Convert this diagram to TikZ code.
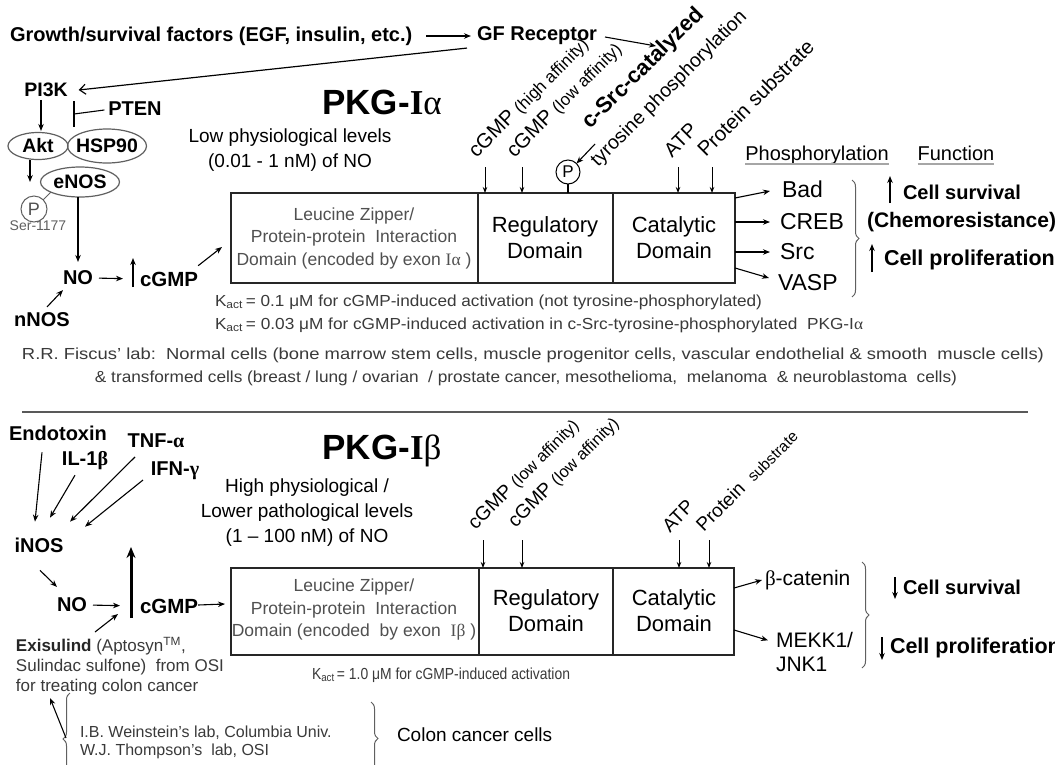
\documentclass[tikz,border=0pt]{standalone}
\usepackage{fontspec}
\usepackage{graphicx}
\setmainfont{Liberation Sans}
\newfontfamily\serif{Liberation Serif}
\usetikzlibrary{arrows.meta,decorations.pathreplacing,calc}
\definecolor{tgray}{HTML}{3A3A3A}
\definecolor{bgray}{HTML}{505050}
\definecolor{lgray}{HTML}{606060}
\newcommand\fs[1]{\fontsize{#1}{#1}\selectfont}
\newcommand\fsb[2]{\fontsize{#1}{#2}\selectfont}
\newcommand\fitw[2]{\resizebox{#1}{\height}{#2}}
\newcommand\gr[1]{{\serif #1}}
\begin{document}
\begin{tikzpicture}[x=1pt,y=-1pt,
  every node/.style={inner sep=0pt, outer sep=0pt},
  bl/.style={font=\bfseries\fs{#1}},
  rg/.style={font=\fs{#1}},
  arr/.style={-{Stealth[length=7pt,width=5.5pt]}, line width=1.1pt},
  arrs/.style={-{Stealth[length=6pt,width=4.5pt]}, line width=1pt},
  uarr/.style={-{Stealth[length=7pt,width=5.5pt]}, line width=1.5pt},
  rot/.style={rotate=45, anchor=south west},
  brc/.style={decorate, decoration={brace, amplitude=7pt}, line width=1pt, draw=lgray},
  ellst/.style={draw=lgray, line width=1.2pt},
  boxst/.style={draw=black!85, line width=2.2pt},
  divst/.style={draw=black!85, line width=1.8pt},
  ulst/.style={draw=black!35, line width=2pt},
  sepst/.style={draw=black!65, line width=1.3pt}
]
\useasboundingbox (0,0) rectangle (1055,764);
\fill[white] (0,0) rectangle (1055,764);

% ---------------- top section ----------------
\node[bl=20, anchor=west] (gf) at (10,36) {Growth/survival factors (EGF, insulin, etc.)};
\node[bl=20, anchor=west] (gfr) at (477,36) {GF Receptor};
\draw[arr, shorten <=14pt, shorten >=6pt] (gf.east) -- (gfr.west);

\node[bl=19.5] (pi3k) at (46,90) {PI3K};
\draw[-{Straight Barb[length=6pt,width=10pt]}, line width=1.2pt] ($(gfr.south west)+(-10,3)$) -- ($(pi3k.east)+(11,0)$);
\draw[arr] ($(pi3k.south)+(-5,3)$) -- ++(0,31);

\node[bl=20] (pten) at (135,109) {PTEN};
\coordinate (bar) at (74,114);
\draw[line width=1.1pt] ($(pten.west)+(-4,1)$) -- (bar);
\draw[line width=1.1pt] ($(bar)+(0,-13)$) -- ($(bar)+(0,13)$);

\node[bl=19.5] (akt) at (38,146) {Akt};
\draw[ellst] (akt.center) ellipse [x radius=30pt, y radius=13.5pt];
\node[bl=19.5] (hsp) at (107,146) {HSP90};
\draw[ellst] (hsp.center) ellipse [x radius=39.5pt, y radius=17pt];
\node[bl=19.5] (enos) at (80,182) {eNOS};
\draw[ellst] (enos.center) ellipse [x radius=39.5pt, y radius=15pt];
\draw[arr] ($(akt.center)+(-8,14)$) -- ++(0,22);

\node[circle, draw=lgray, line width=1pt, minimum size=26pt, font=\fs{18}, text=bgray] (p1) at (34,209) {P};
\draw[lgray, line width=1pt] (p1.north east) -- ($(enos.center)+(-29,10)$);
\node[rg=14, text=lgray] (ser) at (38,226) {Ser-1177};

\node[bl=20] (no1) at (78,278) {NO};
\draw[arr, shorten >=9pt] ($(enos.center)+(-2,15)$) -- (no1.north);
\node[bl=20.5, anchor=west] (cg1) at (140,279) {cGMP};
\draw[arr, shorten <=6pt, shorten >=17pt] (no1.east) -- (cg1.west);
\draw[uarr] ($(cg1.west)+(-7,8)$) -- ++(0,-29);
\node[bl=20] (nnos) at (42,320) {nNOS};
\draw[arr] ($(nnos.north)+(5,-6)$) -- ($(no1.south west)+(0,5)$);

\node[boxst, minimum width=504pt, minimum height=90pt] (box1) at (483,238) {};
\draw[divst] ($(box1.north west)+(247,0)$) -- ($(box1.south west)+(247,0)$);
\draw[divst] ($(box1.north west)+(382,0)$) -- ($(box1.south west)+(382,0)$);
\draw[arr] ($(cg1.north east)+(0,-6)$) -- ($(box1.west)+(-9,9)$);

\node[align=center, font=\fsb{17.5}{22.5}, text=bgray] (lz1) at (354,238) {Leucine Zipper/\\Protein-protein\ \ Interaction\\Domain (encoded by exon \gr{I}\gr{α} )};
\node[align=center, font=\fsb{22}{26}] (reg1) at (545,238) {Regulatory\\Domain};
\node[align=center, font=\fsb{22}{26}] (cat1) at (674,238) {Catalytic\\Domain};

\foreach \dx in {254,291,447,481}
  \draw[arrs] ($(box1.north west)+(\dx,-26)$) -- ($(box1.north west)+(\dx,0)$);
\node[circle, draw, line width=1pt, minimum size=24pt, font=\fs{17}] (p2) at (568,172) {P};
\draw[line width=1.2pt] (p2.south) -- (p2.south |- box1.north);

\node[rot] (lab1) at (479,161) {\fs{20.5}cGMP \fs{17}(high affinity)};
\node[rot] (lab2) at (517,161) {\fs{20.5}cGMP \fs{17}(low affinity)};
\node[rot, font=\bfseries\fs{22}] (csrc) at (594,133) {c-Src-catalyzed};
\node[rot, font=\fs{19.5}] (tyr) at (601,170) {tyrosine phosphorylation};
\node[rot, font=\fs{20}] (atp1) at (672,158) {ATP};
\node[rot, font=\fs{20.5}] (prot1) at (706,158) {Protein substrate};
\draw[arr] ($(csrc.south west)+(1,11)$) -- (p2.north east);
\coordinate (srcin) at (656,46);
\draw[arr] ($(gfr.east)+(8,1)$) -- (srcin);

\node[font=\fs{35}] (pkga) at (382,102) {\bfseries PKG-{\serif I}{\serif\mdseries α}};
\node[font=\fsb{19}{25}, align=center] (low) at (290,150) {Low physiological levels\\(0.01 - 1 nM) of NO};

\node[rg=20, anchor=base] (phos) at (817,160) {Phosphorylation};
\node[rg=20, anchor=base] (func) at (956,160) {Function};
\draw[ulst] ($(phos.base west)+(0,4)$) -- ($(phos.base east)+(0,4)$);
\draw[ulst] ($(func.base west)+(0,4)$) -- ($(func.base east)+(0,4)$);

\node[rg=23, anchor=west] (bad) at (782,189) {Bad};
\node[rg=23, anchor=west] (creb) at (780,222) {CREB};
\node[rg=23, anchor=west] (src) at (780,252) {Src};
\node[rg=23, anchor=west] (vasp) at (778,283) {VASP};
\draw[arr] ($(box1.north east)+(0,5)$) -- ($(bad.west)+(-12,2)$);
\draw[arr] (box1.east |- creb.west) -- ($(creb.west)+(-10,0)$);
\draw[arr] (box1.east |- src.west) -- ($(src.west)+(-10,0)$);
\draw[arr] ($(box1.south east)+(0,-15)$) -- ($(vasp.west)+(-9,-5)$);
\draw[brc] (852,180) -- (852,297);

\node[bl=20, anchor=west] (cs1) at (903,192) {Cell survival};
\draw[uarr] ($(cs1.west)+(-13,11)$) -- ++(0,-27);
\node[bl=21, anchor=west] (chemo) at (867,222) {(Chemoresistance)};
\node[bl=21.5, anchor=west] (cp1) at (884,260) {Cell proliferation};
\draw[uarr] ($(cp1.west)+(-12,12)$) -- ++(0,-28);

\node[anchor=west, text=tgray] (k1) at (215,302) {\fitw{547pt}{\fs{16}K\textsubscript{act}\,= 0.1 μM for cGMP-induced activation (not tyrosine-phosphorylated)}};
\node[anchor=west, text=tgray] (k2) at (215,325) {\fitw{648pt}{\fs{16}K\textsubscript{act}\,= 0.03 μM for cGMP-induced activation in c-Src-tyrosine-phosphorylated\ \ PKG-I\gr{α}}};

\node[text=tgray] (fis1) at (533,355) {\fitw{1022pt}{\fs{16}R.R. Fiscus' lab:\ \ Normal cells (bone marrow stem cells, muscle progenitor cells, vascular endothelial \& smooth\ \ muscle cells)}};
\node[text=tgray] (fis2) at (526,378) {\fitw{862pt}{\fs{16}\& transformed cells (breast / lung / ovarian\ \ / prostate cancer, mesothelioma,\ \ melanoma\ \ \& neuroblastoma\ \ cells)}};

\draw[sepst] (22,412) -- (1028,412);

% ---------------- bottom section ----------------
\node[bl=20] (endo) at (58,433) {Endotoxin};
\node[bl=20] (il1) at (85,461) {IL-1\gr{β}};
\node[bl=20] (tnf) at (156,441) {TNF-\gr{α}};
\node[bl=20] (ifn) at (175,471) {IFN-\gr{γ}};
\node[bl=20] (inos) at (39,545) {iNOS};
\draw[arr] ($(endo.south)+(-16,12)$) -- ($(inos.north)+(-4,-16)$);
\draw[arr] ($(il1.south)+(-10,5)$) -- ($(inos.north)+(11,-20)$);
\draw[arr] ($(tnf.south)+(-21,9)$) -- ($(inos.north)+(31,-16)$);
\draw[arr] ($(ifn.south)+(-32,0)$) -- ($(inos.north)+(46,-11)$);

\node[bl=20] (no2) at (72,605) {NO};
\draw[arr] ($(inos.south)+(1,18)$) -- ($(no2.north west)+(0,-11)$);
\node[bl=20.5, anchor=west] (cg2) at (140,606) {cGMP};
\draw[arr, shorten <=6pt, shorten >=20pt] (no2.east) -- (cg2.west);
\draw[-{Stealth[length=11pt,width=9pt]}, line width=3pt] ($(cg2.west)+(-9,12)$) -- ++(0,-71);

\node[boxst, minimum width=503pt, minimum height=87pt] (box2) at (482.5,611.5) {};
\draw[divst] ($(box2.north west)+(248,0)$) -- ($(box2.south west)+(248,0)$);
\draw[divst] ($(box2.north west)+(382,0)$) -- ($(box2.south west)+(382,0)$);
\draw[arr] ($(cg2.east)+(0,-1)$) -- ($(box2.west)+(-6,-7.5)$);

\node[align=center, font=\fsb{17.5}{22.5}, text=bgray] (lz2) at (354,610) {Leucine Zipper/\\Protein-protein\ \ Interaction\\Domain (encoded\ \ by exon\ \ \gr{I}\gr{β} )};
\node[align=center, font=\fsb{22}{26}] (reg2) at (546,611) {Regulatory\\Domain};
\node[align=center, font=\fsb{22}{26}] (cat2) at (674,611) {Catalytic\\Domain};
\foreach \dx in {252,291,448,478}
  \draw[arrs] ($(box2.north west)+(\dx,-28)$) -- ($(box2.north west)+(\dx,0)$);

\node[rot] (lab3) at (478,533) {\fs{19.5}cGMP \fs{16.5}(low affinity)};
\node[rot] (lab4) at (518,531) {\fs{19.5}cGMP \fs{16.5}(low affinity)};
\node[rot, font=\fs{19}] (atp2) at (670,533) {ATP};
\node[rot] (prot2) at (704,533) {\fs{19}Protein\ \ \fs{15.5}substrate};

\node[font=\fs{35}] (pkgb) at (382,451) {\bfseries PKG-{\serif I}{\serif\mdseries β}};
\node[font=\fsb{19}{25}, align=center] (high) at (307,513) {High physiological /\\Lower pathological levels\\(1 – 100 nM) of NO};

\node[anchor=north west, align=left, font=\fsb{17}{20}, text=tgray] (exi) at (16,637) {\textcolor{black!85}{\bfseries Exisulind} (Aptosyn\textsuperscript{TM},\\Sulindac sulfone)\ \ from OSI\\for treating colon cancer};
\draw[arr] ($(exi.north west)+(79,-5)$) -- ($(cg2.west)+(-22,8)$);

\node[rg=21, anchor=west] (bcat) at (765,580) {\gr{β}-catenin};
\node[anchor=west, align=left, font=\fsb{21}{24}] (mekk) at (776,652) {MEKK1/\\JNK1};
\draw[arr] ($(box2.north east)+(0,20)$) -- ($(bcat.west)+(-3,0)$);
\draw[arr] ($(box2.north east)+(0,62)$) -- ($(mekk.north west)+(-8,8)$);
\draw[brc] (862,562) -- (862,668);

\node[bl=20, anchor=west] (cs2) at (903,587) {Cell survival};
\draw[uarr] ($(cs2.west)+(-8,-10)$) -- ++(0,22);
\node[bl=21.5, anchor=west] (cp2) at (890,648) {Cell proliferation};
\draw[uarr] ($(cp2.west)+(-8,-11)$) -- ++(0,23);
\node[anchor=west, text=tgray] (k3) at (312,675) {\fitw{258pt}{\fs{16}K\textsubscript{act}\,= 1.0 μM for cGMP-induced activation}};

\coordinate (lbtip) at (66,738);
\draw[brc] (70,785) -- (70,693);
\draw[arr] (lbtip) -- ($(exi.south west)+(34,3)$);
\node[rg=16, anchor=west, text=tgray] (ibw) at (80,733) {I.B. Weinstein's lab, Columbia Univ.};
\node[rg=16, anchor=west, text=tgray] (wjt) at (80,751) {W.J. Thompson's\ \ lab, OSI};
\draw[brc] (371,702) -- (371,775);
\node[rg=19, anchor=west] (colon) at (397,735) {Colon cancer cells};
\end{tikzpicture}
\end{document}
